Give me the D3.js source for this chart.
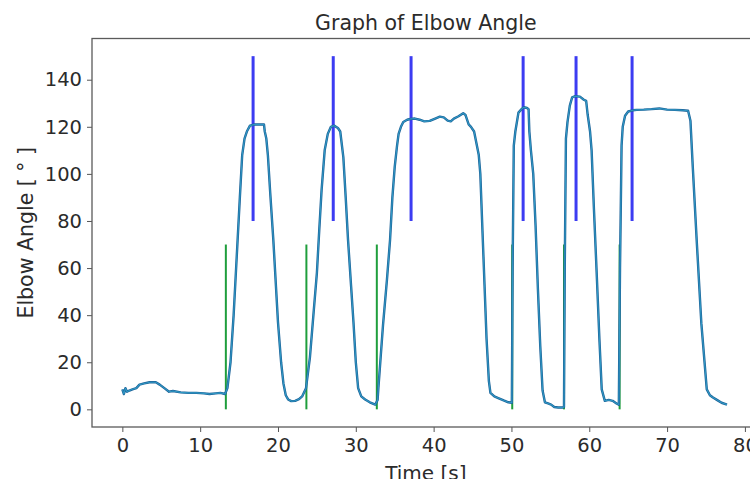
<!DOCTYPE html>
<html>
<head>
<meta charset="utf-8">
<script src="https://cdn.jsdelivr.net/npm/d3@7"></script>
<style>
  body { margin: 0; background: #fff; }
  svg { display: block; font-family: "DejaVu Sans", sans-serif; }
</style>
</head>
<body>
<svg id="chart" width="750" height="479"></svg>
<script>
// Elbow angle trace (seconds, degrees)
const timeSec = [0, 0.2, 0.4, 0.6, 0.9, 1.3, 1.8, 2.2, 2.8, 3.5, 4.3, 4.8, 5.4, 6.0, 6.5, 7.5, 8.5, 9.5, 10.5, 11.2, 12, 12.6, 13.2,
  13.5, 13.9, 14.3, 14.7, 15.1, 15.4, 15.7, 16.0, 16.4, 17.0, 17.8, 18.2, 18.3, 18.5, 18.7, 19.0, 19.4, 20.0, 20.4, 20.7, 21.0,
  21.3, 21.7, 22.2, 22.7, 23.1, 23.6, 24.1, 24.6, 25.0, 25.3, 25.6, 26.0, 26.4, 26.8, 27.2, 27.7, 28.0, 28.4, 28.7, 29.0, 29.4,
  29.7, 30.0, 30.3, 30.7, 31.2, 31.8, 32.5, 32.8, 32.9, 33.5, 34.0, 34.4, 34.7, 35.0, 35.3, 35.5, 35.8, 36.1, 36.6, 37.0, 37.6,
  38.2, 38.8, 39.5, 40.2, 40.8, 41.3, 41.8, 42.2, 42.6, 43.2, 43.8, 44.1, 44.5, 44.8, 45.2, 45.5, 45.8, 46.0, 46.4, 46.8, 47.1,
  47.3, 47.8, 48.3, 49.0, 49.6, 50.05, 50.15, 50.3, 50.5, 50.9, 51.3, 51.6, 52.0, 52.2, 52.3, 52.5, 52.8, 53.1, 53.4, 53.7, 54.0,
  54.3, 54.7, 55.1, 55.5, 56.0, 56.6, 56.75, 56.85, 57.0, 57.2, 57.5, 57.8, 58.2, 58.8, 59.3, 59.6, 59.8, 60.1, 60.3, 60.6, 60.95,
  61.3, 61.6, 62.0, 62.5, 63.0, 63.5, 63.8, 63.95, 64.15, 64.3, 64.6, 65.0, 65.6, 66.1, 67.0, 68.0, 69.0, 70.0, 71.0, 72.0, 72.7,
  73.0, 73.3, 73.8, 74.4, 75.1, 75.5, 75.9, 76.5, 77.0, 77.7];
const elbowAngle = [8.5, 6.5, 9, 7.5, 8, 8.5, 9, 10.5, 11, 11.5, 11.5, 10.5, 9, 7.5, 7.8, 7.2, 7, 7, 6.8, 6.5, 6.8, 7, 6.5,
  9, 20, 40, 65, 90, 108, 115, 118, 120.5, 121, 121, 121, 118, 115, 108, 92, 72, 37, 20, 11, 6,
  4.2, 3.5, 3.6, 4.3, 5.5, 9, 22, 42, 58, 76, 93, 110, 117, 120, 120.5, 119.5, 118, 107, 90, 72, 52,
  37, 20, 9, 5.5, 4.2, 3, 2, 4, 9, 36, 55, 72, 90, 103, 112, 117, 120, 122, 123, 123.3, 123.5,
  123, 122.3, 122.5, 123.5, 124.3, 124, 122.6, 122.3, 123.5, 124.5, 125.8, 125, 121, 120, 118, 113, 108, 100, 65, 30, 12,
  7, 5.5, 4.8, 3.8, 3, 2.8, 60, 112, 118, 126, 127.5, 128.3, 128, 127.5, 118, 110, 100, 78, 51, 27, 8,
  3, 2.5, 2, 1, 0.8, 0.8, 1, 60, 115, 122, 129, 132.5, 133, 132.8, 131.5, 131, 125, 118, 110, 85, 58,
  30, 8.5, 3.6, 4, 3.6, 2.5, 2, 60, 112, 120, 124.7, 126.5, 127, 127.2, 127.3, 127.5, 127.8, 127.3, 127.2, 127, 126.8,
  122.6, 103, 72, 36.6, 8.5, 6, 5, 3.8, 2.8, 2];

// Marker lines: start of each lift (green) and peak (blue)
const startTimes = [13.3, 23.65, 32.7, 50.1, 56.75, 63.9];
const peakTimes = [16.8, 27.1, 37.1, 51.5, 58.3, 65.5];
const startRange = [0, 70];
const peakRange = [80, 150];

const xTicks = [0, 10, 20, 30, 40, 50, 60, 70, 80];
const yTicks = [0, 20, 40, 60, 80, 100, 120, 140];

// Axes box (the right edge runs past the window, like the picture)
const LEFT = 92, TOP = 38.5, RIGHT = 759.7, BOTTOM = 427;

const svg = d3.select("#chart");

const x = d3.scaleLinear().domain([-3.9, 81.9]).range([LEFT, RIGHT]);
const y = d3.scaleLinear().domain([-7.5, 157.5]).range([BOTTOM, TOP]);

// green and blue vertical markers
svg.append("g")
  .selectAll("line")
  .data(startTimes)
  .join("line")
  .attr("x1", (d) => x(d)).attr("x2", (d) => x(d))
  .attr("y1", y(startRange[0])).attr("y2", y(startRange[1]))
  .attr("stroke", "#1f9e3c")
  .attr("stroke-width", 2);

svg.append("g")
  .selectAll("line")
  .data(peakTimes)
  .join("line")
  .attr("x1", (d) => x(d)).attr("x2", (d) => x(d))
  .attr("y1", y(peakRange[0])).attr("y2", y(peakRange[1]))
  .attr("stroke", "#3c3cf2")
  .attr("stroke-width", 3);

// the angle trace: dark edge with a lighter core
const points = timeSec.map((t, i) => [t, elbowAngle[i]]);
const line = d3.line().x((d) => x(d[0])).y((d) => y(d[1]));

svg.append("path")
  .datum(points)
  .attr("d", line)
  .attr("fill", "none")
  .attr("stroke", "#1d6298")
  .attr("stroke-width", 2.4)
  .attr("stroke-linejoin", "round");

svg.append("path")
  .datum(points)
  .attr("d", line)
  .attr("fill", "none")
  .attr("stroke", "#35a6cf")
  .attr("stroke-width", 1.1)
  .attr("stroke-opacity", 0.8)
  .attr("stroke-linejoin", "round");

// axes
const xAxis = svg.append("g")
  .attr("transform", `translate(0,${BOTTOM})`)
  .call(d3.axisBottom(x).tickValues(xTicks).tickSize(5).tickPadding(6).tickFormat(d3.format("d")));

const yAxis = svg.append("g")
  .attr("transform", `translate(${LEFT},0)`)
  .call(d3.axisLeft(y).tickValues(yTicks).tickSize(5).tickPadding(5).tickFormat(d3.format("d")));

[xAxis, yAxis].forEach((g) => {
  g.select(".domain").remove();
  g.selectAll(".tick line").attr("stroke", "#555").attr("stroke-width", 1);
  g.selectAll(".tick text")
    .attr("fill", "#2b2b2b")
    .style("font-size", "19.5px")
    .style("font-family", "DejaVu Sans, sans-serif");
});

// spines
svg.append("rect")
  .attr("x", LEFT).attr("y", TOP)
  .attr("width", RIGHT - LEFT).attr("height", BOTTOM - TOP)
  .attr("fill", "none")
  .attr("stroke", "#5a5a5a")
  .attr("stroke-width", 1.3);

// title and labels
svg.append("text")
  .text("Graph of Elbow Angle")
  .attr("x", (LEFT + RIGHT) / 2)
  .attr("y", 30)
  .attr("text-anchor", "middle")
  .attr("fill", "#2b2b2b")
  .style("font-size", "20.5px");

svg.append("text")
  .text("Time [s]")
  .attr("x", (LEFT + RIGHT) / 2)
  .attr("y", 480)
  .attr("text-anchor", "middle")
  .attr("fill", "#2b2b2b")
  .style("font-size", "20px");

svg.append("text")
  .text("Elbow Angle [ ° ]")
  .attr("transform", `translate(33,${(TOP + BOTTOM) / 2}) rotate(-90)`)
  .attr("text-anchor", "middle")
  .attr("fill", "#2b2b2b")
  .style("font-size", "20.5px");
</script>
</body>
</html>
